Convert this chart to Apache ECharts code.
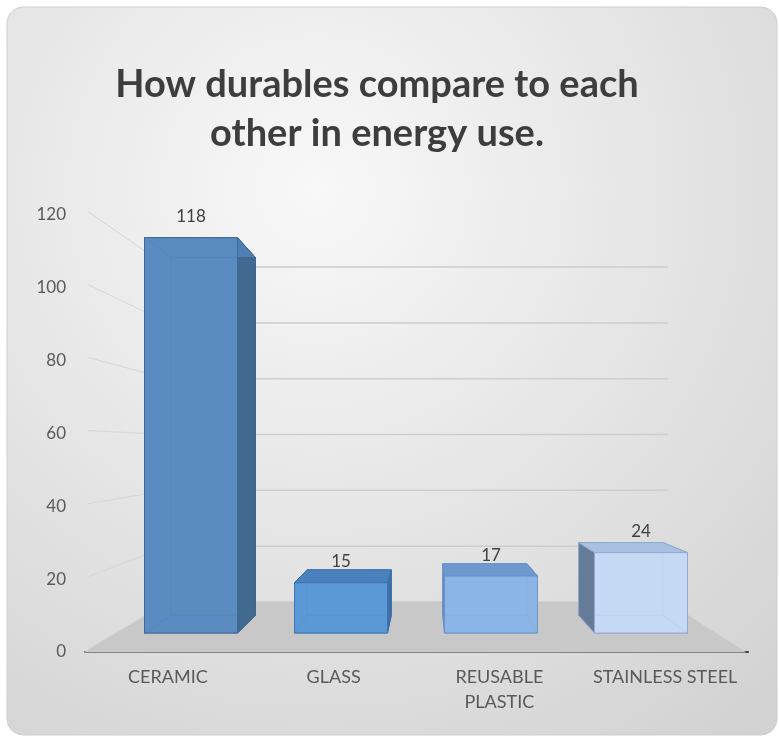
<!DOCTYPE html>
<html><head><meta charset="utf-8">
<script src="https://cdn.jsdelivr.net/npm/echarts@6/dist/echarts.min.js"></script>
<style>html,body{margin:0;padding:0;background:#fff}#c{width:779px;height:738px}</style>
</head><body><div id="c"></div>
<script>
// ---- data ----
const categories = ['CERAMIC', 'GLASS', 'REUSABLE\nPLASTIC', 'STAINLESS STEEL'];
const energyUse = [118, 15, 17, 24];
const yTicks = [0, 20, 40, 60, 80, 100, 120];
const titleLines = ['How durables compare to each', 'other in energy use.'];

// ---- styles ----
const barStyles = [
  {front: '#5b8cc1', top: '#4f7fb4', side: '#42698f', edge: '#3e6791'},
  {front: '#5b98d6', top: '#4a81bd', side: '#3f6ea5', edge: '#3d72ad'},
  {front: '#8bb4e6', top: '#6d99d0', side: '#5d86ba', edge: '#6993c7'},
  {front: '#c6d9f3', top: '#a9c0e2', side: '#667b98', edge: '#8ea7cc'}
];
const FONT = 'Lato, "Open Sans", sans-serif';

// perspective settings (vanishing point and depth scale factors)
const VX = 427, VY = 447;
const S_BAR_BACK = 0.905, S_WALL = 0.833, S_FRONT = 1.105, S_LABEL = 1.09;
function proj(x, y, s) { return [VX + s * (x - VX), VY + s * (y - VY)]; }

const chart = echarts.init(document.getElementById('c'));

const option = {
  animation: false,
  graphic: {
    elements: [{
      type: 'rect', z: -10, silent: true,
      shape: {x: 7, y: 7, width: 770, height: 728, r: 16},
      style: {
        fill: {type: 'radial', x: 0.4, y: 0.25, r: 0.95,
          colorStops: [{offset: 0, color: '#f8f8f8'}, {offset: 1, color: '#d2d2d2'}]},
        stroke: '#cfcfcf', lineWidth: 1
      }
    }]
  },
  title: {
    text: titleLines.join('\n'),
    left: 372, top: 55, textAlign: 'center',
    textStyle: {fontFamily: FONT, fontSize: 38, fontWeight: 'bold', color: '#3d3d3d', lineHeight: 49}
  },
  grid: [
    {left: 116, right: 63, top: 231, bottom: 105},
    {left: 85, right: 31, top: 215, bottom: 86}
  ],
  xAxis: [
    {type: 'category', gridIndex: 0, data: categories, show: false},
    {type: 'category', gridIndex: 1, data: categories,
      axisLine: {lineStyle: {color: '#404040', width: 2}},
      axisTick: {show: false},
      axisLabel: {color: '#595959', fontFamily: FONT, fontSize: 18, lineHeight: 25, margin: 13, interval: 0}}
  ],
  yAxis: [
    {type: 'value', gridIndex: 0, min: 0, max: 120, interval: 20, show: false},
    {type: 'value', gridIndex: 1, min: 0, max: 120, interval: 20,
      axisLine: {show: false}, axisTick: {show: false}, splitLine: {show: false},
      axisLabel: {color: '#595959', fontFamily: FONT, fontSize: 17, margin: 19}}
  ],
  series: [
    { // back wall gridlines + left wall lines
      type: 'custom', xAxisIndex: 0, yAxisIndex: 0, z: 1, silent: true, clip: false,
      data: yTicks.map(v => [0, v]),
      renderItem(params, api) {
        const cs = params.coordSys;
        const xl = cs.x, xr = cs.x + cs.width;
        const y = api.coord([0, api.value(1)])[1];
        const a = proj(xl, y, S_WALL), b = proj(xr, y, S_WALL), c = proj(xl, y, S_LABEL);
        return {type: 'group', children: [
          {type: 'line', shape: {x1: a[0], y1: a[1], x2: b[0], y2: b[1]}, style: {stroke: '#cdcdcd', lineWidth: 1.5}},
          {type: 'line', shape: {x1: c[0], y1: c[1], x2: a[0], y2: a[1]}, style: {stroke: '#d6d6d6', lineWidth: 1}}
        ]};
      }
    },
    { // floor
      type: 'custom', xAxisIndex: 0, yAxisIndex: 0, z: 2, silent: true, clip: false,
      data: [[0, yTicks[0]]],
      renderItem(params, api) {
        const cs = params.coordSys;
        const xl = cs.x, xr = cs.x + cs.width;
        const y = api.coord([0, api.value(1)])[1];
        const pts = [proj(xl, y, S_WALL), proj(xr, y, S_WALL), proj(xr, y, S_FRONT), proj(xl, y, S_FRONT)];
        return {type: 'polygon', shape: {points: pts}, style: {fill: '#c8c8c8'}};
      }
    },
    { // 3D bars
      type: 'custom', xAxisIndex: 0, yAxisIndex: 0, z: 3, silent: true, clip: false,
      data: energyUse.map((v, i) => [i, v]),
      encode: {x: 0, y: 1},
      renderItem(params, api) {
        const i = api.value(0), v = api.value(1);
        const st = barStyles[i];
        const cs = params.coordSys;
        const band = cs.width / categories.length;
        const bw = band * 0.62;
        const top = api.coord([i, v]), base = api.coord([i, 0]);
        const a = top[0] - bw / 2, b = top[0] + bw / 2, yt = top[1], yb = base[1];
        const F = [[a, yt], [b, yt], [b, yb], [a, yb]];
        const B = F.map(p => proj(p[0], p[1], S_BAR_BACK));
        const poly = (pts, fill, op) => ({type: 'polygon', shape: {points: pts},
          style: {fill: fill, stroke: st.edge, lineWidth: 1, opacity: op == null ? 1 : op}});
        const children = [];
        children.push(poly(B, st.front));
        children.push(poly([F[3], F[2], B[2], B[3]], st.front));
        const rightFace = [F[1], B[1], B[2], F[2]];
        const leftFace = [F[0], B[0], B[3], F[3]];
        if (b < VX) { children.push(poly(leftFace, st.front)); children.push(poly(rightFace, st.side)); }
        else { children.push(poly(rightFace, st.front)); children.push(poly(leftFace, st.side)); }
        children.push(poly([F[0], F[1], B[1], B[0]], st.top));
        children.push({type: 'polygon', shape: {points: F},
          style: {fill: st.front, stroke: st.edge, lineWidth: 1, opacity: 0.86}});
        children.push({type: 'text', style: {text: String(v), x: top[0], y: yt - 21,
          fill: '#404040', font: '17px ' + FONT, align: 'center', verticalAlign: 'middle'}});
        return {type: 'group', children: children};
      }
    }
  ]
};
chart.setOption(option);
</script>
</body></html>
